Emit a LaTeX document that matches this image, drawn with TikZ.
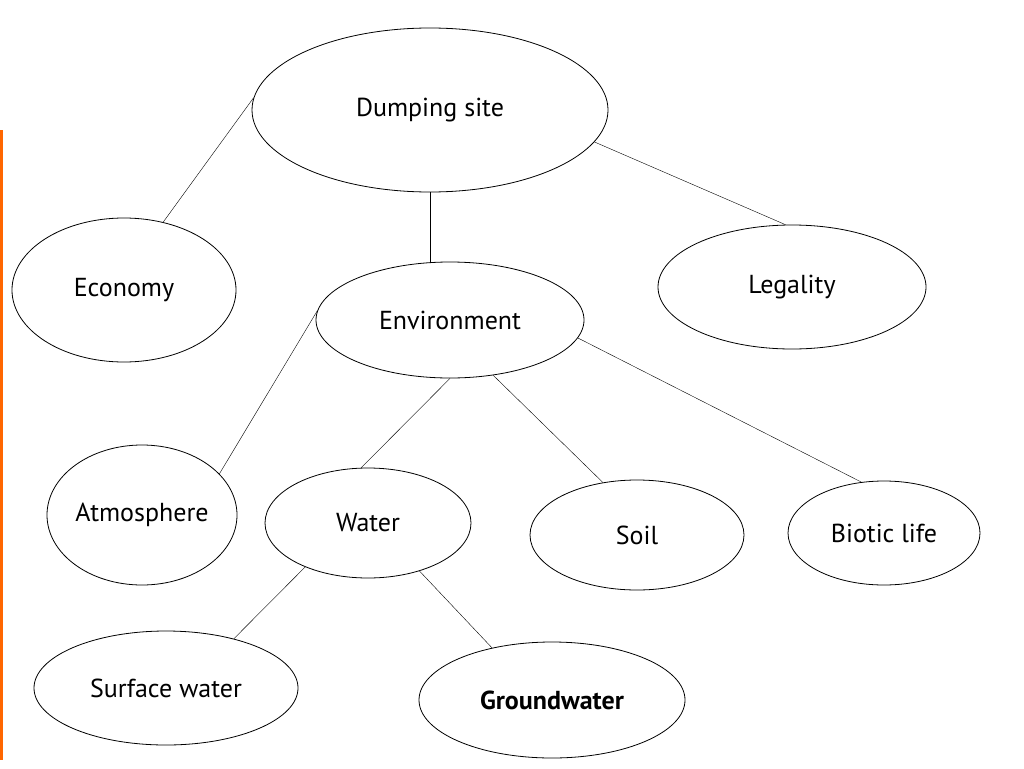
\documentclass[tikz,border=0pt]{standalone}
\usepackage{fontspec}
\setmainfont{PT Sans}
\usetikzlibrary{shapes.geometric}
\tikzset{topic/.style={shape=ellipse,draw=black,thick,inner sep=0pt,font=\fontsize{26}{30}\selectfont}}
\begin{document}
\begin{tikzpicture}[x=1pt,y=-1pt]
	\useasboundingbox (0,0) rectangle (1024,768);
	\fill[orange!80!red] (0,130) rectangle (3,760);
	
	\node[topic,minimum width=356,minimum height=164] (dump) at (430,110) {Dumping site};
	\node[topic,minimum width=224,minimum height=144] (econ) at (124,290) {Economy};
	\node[topic,minimum width=268,minimum height=124] (legal) at (792,287) {Legality};
	\node[topic,minimum width=268,minimum height=116] (env) at (450,320) {Environment};
	\node[topic,minimum width=190,minimum height=140] (atmo) at (142,515) {Atmosphere};
	\node[topic,minimum width=206,minimum height=110] (water) at (368,523) {Water};
	\node[topic,minimum width=214,minimum height=110] (soil) at (637,535) {Soil};
	\node[topic,minimum width=192,minimum height=104] (biotic) at (884,533) {Biotic life};
	\node[topic,minimum width=264,minimum height=114] (surf) at (166,688) {Surface water};
	\node[topic,minimum width=266,minimum height=116] (ground) at (552,700) {\textbf{Groundwater}};
	
	\path[-] (dump.176) edge (econ.60);
	\path[-] (dump.south) edge (dump.south |- env.north);
	\path[-] (dump.-11) edge (legal.96);
	\path[-] (env.176) edge (atmo.28);
	\path[-] (env.270) edge (water.97);
	\path[-] (env.-52) edge (soil.123);
	\path[-] (env.-8) edge (biotic.114);
	\path[-] (water.215) edge (surf.36);
	\path[-] (water.-43) edge (ground.139);
	
\end{tikzpicture}
\end{document}
